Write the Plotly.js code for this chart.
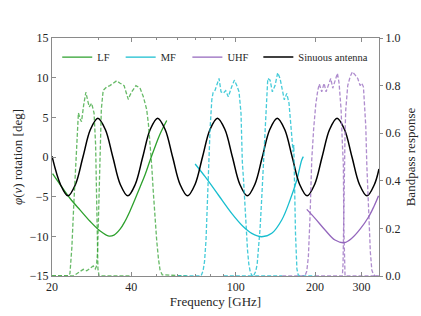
<!DOCTYPE html>
<html>
<head>
<meta charset="utf-8">
<script src="https://cdn.plot.ly/plotly-3.0.1.min.js"></script>
<style>html,body{margin:0;padding:0;background:#fff;}#chart{width:421px;height:316px;}</style>
</head>
<body>
<div id="chart"></div>
<script>
// ---- Data ----
// Sinuous antenna phase rotation [deg] vs frequency [GHz]
const sinFreq = [20.0, 21.54, 23.00, 24.56, 26.22, 27.99, 29.88, 31.90, 34.06, 36.36, 38.82, 41.44, 44.25, 47.24, 50.43, 53.84, 57.48, 61.37, 65.52, 69.95, 74.67, 79.72, 85.11, 90.87, 97.01, 103.57, 110.57, 118.05, 126.03, 134.55, 143.64, 153.35, 163.72, 174.79, 186.61, 199.22, 212.69, 227.07, 242.42, 258.81, 276.31, 294.99, 314.93, 336.22, 350];
const sinPhi  = [0.1, -3.46, -4.9, -3.46, 0, 3.46, 4.9, 3.46, 0, -3.46, -4.9, -3.46, 0, 3.46, 4.9, 3.46, 0, -3.46, -4.9, -3.46, 0, 3.46, 4.9, 3.46, 0, -3.46, -4.9, -3.46, 0, 3.46, 4.9, 3.46, 0, -3.46, -4.9, -3.46, 0, 3.46, 4.9, 3.46, 0, -3.46, -4.9, -3.46, -1.5];

// Band-averaged phase rotation curves [deg]
const lfFreq = [20.1, 21.5, 23.4, 25.6, 27.9, 30.4, 32.7, 34.4, 36.3, 37.9, 39.6, 41.4, 43.2, 45.2, 47.2, 49.3, 51.5, 54.6];
const lfPhi  = [-2.1, -3.5, -5.2, -6.7, -8.1, -9.3, -9.95, -9.85, -9.1, -8.1, -6.8, -5.3, -3.8, -2.2, -0.4, 1.3, 2.9, 4.6];
const mfFreq = [70.0, 76.4, 85.8, 96.4, 106.8, 114.9, 125.4, 136.9, 149.4, 160.7, 170.4, 178.0, 180.5];
const mfPhi  = [-0.88, -2.48, -4.79, -7.1, -8.79, -9.62, -10.05, -9.62, -7.94, -5.42, -2.9, -0.38, 0.05];
const uhfFreq = [186.0, 200.0, 218.3, 238.2, 258.4, 275.8, 296.6, 318.9, 335.2, 348.6];
const uhfPhi  = [-6.6, -7.73, -9.2, -10.47, -10.8, -10.25, -9.1, -7.6, -6.2, -4.9];

// Bandpass responses (dashed)
const lf1Freq = [20, 23.0, 23.4, 23.8, 24.2, 24.7, 25.0, 25.2, 25.6, 25.9, 26.4, 26.9, 27.3, 27.7, 28.3, 28.9, 29.3, 29.5, 29.7, 29.9, 30.2, 40];
const lf1Resp = [0, 0, 0.01, 0.12, 0.3, 0.48, 0.62, 0.685, 0.66, 0.648, 0.72, 0.772, 0.74, 0.711, 0.726, 0.684, 0.55, 0.35, 0.15, 0.03, 0, 0];
const lf2Freq = [20, 24.0, 24.5, 25.6, 26.3, 27.1, 27.9, 28.7, 29.2, 29.5, 29.8, 30.1, 30.4, 30.8, 31.3, 32.3, 33.2, 34.2, 35.2, 36.3, 37.6, 38.3, 39.0, 39.6, 40.2, 41.7, 43.2, 44.5, 45.8, 46.5, 47.2, 47.9, 48.5, 49.3, 50.0, 50.8, 51.5, 52.5, 65];
const lf2Resp = [0, 0, 0.005, 0.018, 0.028, 0.022, 0.032, 0.042, 0.03, 0.04, 0.1, 0.3, 0.5, 0.7, 0.78, 0.795, 0.80, 0.81, 0.82, 0.81, 0.80, 0.77, 0.742, 0.76, 0.774, 0.80, 0.79, 0.753, 0.70, 0.64, 0.56, 0.46, 0.36, 0.24, 0.15, 0.07, 0.025, 0.005, 0];
const mf1Freq = [60, 72, 73.7, 75.0, 76.0, 77.0, 78.4, 79.8, 81.0, 81.9, 83.3, 84.6, 86.3, 87.8, 89.6, 91.5, 93.6, 96.4, 98.7, 100.8, 102.8, 104.6, 105.8, 107.0, 108.3, 109.5, 110.7, 112.0, 113.5, 115.5, 150];
const mf1Resp = [0, 0, 0, 0.02, 0.06, 0.15, 0.41, 0.62, 0.74, 0.77, 0.78, 0.80, 0.83, 0.774, 0.768, 0.779, 0.753, 0.795, 0.823, 0.80, 0.774, 0.684, 0.48, 0.40, 0.28, 0.19, 0.11, 0.05, 0.015, 0, 0];
const mf2Freq = [90, 115, 117.3, 119, 120.5, 122, 123.6, 125.3, 127.1, 129.1, 130.8, 132.2, 134.9, 137.6, 140.9, 144.2, 147.2, 150.2, 152.8, 156.1, 159.2, 162.0, 163.9, 165.0, 166.0, 166.8, 167.6, 168.5, 169.5, 170.6, 172.5, 175, 200];
const mf2Resp = [0, 0, 0.005, 0.02, 0.05, 0.11, 0.2, 0.32, 0.47, 0.6, 0.75, 0.83, 0.823, 0.774, 0.80, 0.854, 0.83, 0.774, 0.74, 0.767, 0.726, 0.627, 0.571, 0.52, 0.55, 0.47, 0.32, 0.18, 0.08, 0.03, 0.005, 0, 0];
const uhf1Freq = [150, 183, 186, 188.6, 191.4, 194.3, 197.6, 201.2, 204.8, 207.6, 212.0, 216.4, 220.2, 224.7, 229.4, 233.5, 238.2, 243.2, 246.8, 251.2, 254.0, 256.2, 257.3, 258.4, 260, 350];
const uhf1Resp = [0, 0, 0.02, 0.08, 0.25, 0.49, 0.62, 0.72, 0.78, 0.807, 0.774, 0.81, 0.774, 0.80, 0.83, 0.789, 0.816, 0.852, 0.81, 0.697, 0.557, 0.466, 0.2, 0.03, 0, 0];
const uhf2Freq = [200, 254.0, 255.5, 256.8, 258.4, 260.0, 261.6, 263.8, 266.2, 271.8, 277.3, 283.9, 290.7, 296.6, 301.0, 305.4, 308.1, 311.8, 314.6, 317.5, 321.0, 324.5, 328.7, 333, 338.3, 350];
const uhf2Resp = [0, 0, 0.05, 0.25, 0.466, 0.6, 0.697, 0.77, 0.80, 0.837, 0.858, 0.845, 0.83, 0.80, 0.81, 0.795, 0.74, 0.627, 0.466, 0.33, 0.207, 0.1, 0.025, 0.008, 0, 0];

const xTicks = [20, 40, 100, 200, 300];
const xMinor = [30, 50, 60, 70, 80, 90];

// ---- Styles ----
const GREEN = '#2ca02c', CYAN = '#17becf', PURPLE = '#9467bd';
const GREEN_D = 'rgba(44,160,44,0.72)', CYAN_D = 'rgba(23,190,207,0.8)', PURPLE_D = 'rgba(148,103,189,0.75)';
const DASH = '4px,2px';

function band(x, y, color) {
  return {x: x, y: y, yaxis: 'y2', type: 'scatter', mode: 'lines', showlegend: false, hoverinfo: 'skip',
          line: {color: color, width: 1.3, dash: DASH}};
}
function phase(x, y, color, name, w, leg) {
  return {x: x, y: y, type: 'scatter', mode: 'lines', name: name, legend: leg, showlegend: true,
          line: {color: color, width: w, shape: 'spline', smoothing: 1}};
}

const traces = [
  band(lf1Freq, lf1Resp, GREEN_D),
  band(lf2Freq, lf2Resp, GREEN_D),
  band(mf1Freq, mf1Resp, CYAN_D),
  band(mf2Freq, mf2Resp, CYAN_D),
  band(uhf1Freq, uhf1Resp, PURPLE_D),
  band(uhf2Freq, uhf2Resp, PURPLE_D),
  phase(lfFreq, lfPhi, GREEN, 'LF', 1.3, 'legend'),
  phase(mfFreq, mfPhi, CYAN, 'MF', 1.3, 'legend2'),
  phase(uhfFreq, uhfPhi, PURPLE, 'UHF', 1.3, 'legend3'),
  phase(sinFreq, sinPhi, '#000000', 'Sinuous antenna', 1.5, 'legend4')
];

const FONT = 'Liberation Serif, Times New Roman, serif';
const AXC = '#8a8a8a';

function leg(x) {
  return {orientation: 'h', x: x, y: 0.92, xanchor: 'left', yanchor: 'middle',
          bgcolor: 'rgba(0,0,0,0)', borderwidth: 0,
          font: {family: FONT, size: 10.5, color: '#262626'}};
}

const layout = {
  width: 421, height: 316,
  margin: {l: 52, r: 42, t: 38, b: 40},
  paper_bgcolor: '#ffffff', plot_bgcolor: '#ffffff',
  font: {family: FONT, size: 12, color: '#262626'},
  showlegend: true,
  legend: leg(0.016),
  legend2: leg(0.210),
  legend3: leg(0.414),
  legend4: leg(0.631),
  xaxis: {type: 'log', range: [Math.log10(20), Math.log10(350)],
          tickmode: 'array', tickvals: xTicks, ticktext: xTicks.map(String),
          ticks: 'inside', ticklen: 4, tickwidth: 1, tickcolor: AXC,
          minor: {tickmode: 'array', tickvals: xMinor, ticks: 'inside', ticklen: 2, tickcolor: AXC},
          showline: true, linecolor: AXC, linewidth: 1, mirror: 'ticks',
          showgrid: false, zeroline: false,
          tickfont: {family: FONT, size: 12},
          title: {text: 'Frequency [GHz]', font: {family: FONT, size: 13}, standoff: 2}},
  yaxis: {range: [-15, 15], tickmode: 'linear', tick0: -15, dtick: 5,
          ticks: 'inside', ticklen: 4, tickcolor: AXC,
          showline: true, linecolor: AXC, linewidth: 1,
          showgrid: false, zeroline: false,
          tickfont: {family: FONT, size: 12},
          title: {text: '<i>φ</i>(<i>ν</i>) rotation [deg]', font: {family: FONT, size: 13}, standoff: 4}},
  yaxis2: {overlaying: 'y', side: 'right', range: [0, 1], tickmode: 'linear', tick0: 0, dtick: 0.2,
           tickformat: '.1f', ticks: 'outside', ticklen: 3, tickcolor: AXC,
           showline: true, linecolor: AXC, linewidth: 1.2,
           showgrid: false, zeroline: false,
           tickfont: {family: FONT, size: 12},
           title: {text: 'Bandpass response', font: {family: FONT, size: 13}, standoff: 6}}
};

Plotly.newPlot('chart', traces, layout, {displayModeBar: false, staticPlot: true});
</script>
</body>
</html>
